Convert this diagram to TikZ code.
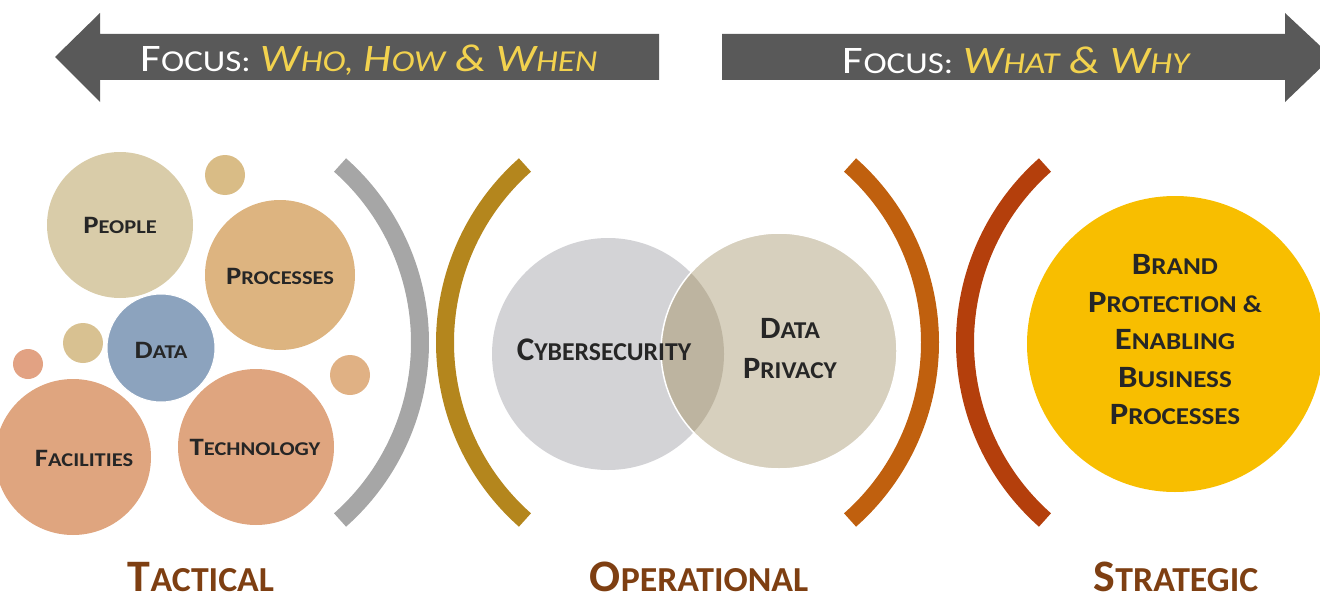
\documentclass[tikz,border=0pt]{standalone}
\usepackage{fontspec}
\setmainfont{Carlito}
\usepackage{graphicx}
\newcommand\fsc[2]{#1\scalebox{0.78}{#2}}
\definecolor{arrowgray}{HTML}{595959}
\definecolor{focusyellow}{HTML}{F2D24E}
\definecolor{cpeople}{HTML}{D9CCA9}
\definecolor{cproc}{HTML}{DDB480}
\definecolor{cdata}{HTML}{8CA3BE}
\definecolor{csalmon}{HTML}{DFA57F}
\definecolor{csmallA}{HTML}{D9BC86}
\definecolor{csmallB}{HTML}{D8C191}
\definecolor{csmallC}{HTML}{E2A283}
\definecolor{csmallD}{HTML}{E0B184}
\definecolor{bgray}{HTML}{A6A6A6}
\definecolor{bgold}{HTML}{B4861D}
\definecolor{borange}{HTML}{C0600E}
\definecolor{bred}{HTML}{B43F0C}
\definecolor{ccyber}{HTML}{D3D3D6}
\definecolor{cpriv}{HTML}{D7D0BE}
\definecolor{coverlap}{HTML}{BDB4A0}
\definecolor{cbrand}{HTML}{F8BE00}
\definecolor{labelbrown}{HTML}{7E3F12}
\begin{document}
\begin{tikzpicture}[x=1pt,y=-1pt,
  bubble/.style={circle,inner sep=0pt,draw=none},
  lbl/.style={font=\bfseries\fontsize{25}{27}\selectfont,text=black!85,align=center,xscale=1.15,inner sep=0pt},
  oplbl/.style={font=\bfseries\fontsize{33}{40}\selectfont,text=black!85,align=center,inner sep=0pt},
  brack/.style={line width=18pt,line cap=butt},
  focus/.style={font=\fontsize{39}{42}\selectfont,text=white,xscale=1.15,inner sep=0pt},
  level/.style={font=\bfseries\fontsize{45}{50}\selectfont,text=labelbrown,anchor=base,inner sep=0pt,xscale=1.02}]
\useasboundingbox (0,0) rectangle (1320,602);
% arrows
\fill[arrowgray] (659,34) -- (100,34) -- (100,13) -- (55,57) -- (100,102) -- (100,80) -- (659,80) -- cycle;
\fill[arrowgray] (722,34) -- (1285,34) -- (1285,13) -- (1332,57) -- (1285,102) -- (1285,80) -- (722,80) -- cycle;
\node[focus] (f1) at (369,60) {\fsc{F}{OCUS:} \textcolor{focusyellow}{\itshape\fsc{W}{HO,} \fsc{H}{OW} \& \fsc{W}{HEN}}};
\node[focus] (f2) at (1016,60) {\fsc{F}{OCUS:} \textcolor{focusyellow}{\itshape\fsc{W}{HAT} \& \fsc{W}{HY}}};
% tactical bubbles
\node[bubble,fill=cpeople,minimum size=146pt] (people) at (120,225) {};
\node[bubble,fill=csmallA,minimum size=40pt] (s1) at (225,175) {};
\node[bubble,fill=cproc,minimum size=150pt] (proc) at (280,275) {};
\node[bubble,fill=csmallB,minimum size=40pt] (s2) at (83,343) {};
\node[bubble,fill=csmallC,minimum size=30pt] (s3) at (28,364) {};
\node[bubble,fill=csmallD,minimum size=40pt] (s4) at (350,375) {};
\node[bubble,fill=cdata,draw=white,line width=1pt,minimum size=108pt] (data) at (161,348) {};
\node[bubble,fill=csalmon,minimum size=156pt] (fac) at (73,457) {};
\node[bubble,fill=csalmon,minimum size=156pt] (tech) at (256,447) {};
\node[lbl] (tpeople) at (120,225) {\fsc{P}{EOPLE}};
\node[lbl] (tproc) at (280,276) {\fsc{P}{ROCESSES}};
\node[lbl] (tdata) at (161,350) {\fsc{D}{ATA}};
\node[lbl] (tfac) at (84,458) {\fsc{F}{ACILITIES}};
\node[lbl] (ttech) at (255,447) {\fsc{T}{ECHNOLOGY}};
% brackets
\draw[brack,bgray] (183,342.5) ++(48.5:237) arc[start angle=48.5,end angle=-48.5,radius=237];
\draw[brack,bgold] (682,342.5) ++(131.5:237) arc[start angle=131.5,end angle=228.5,radius=237];
\draw[brack,borange] (693,342.5) ++(48.5:237) arc[start angle=48.5,end angle=-48.5,radius=237];
\draw[brack,bred] (1202,342.5) ++(131.5:237) arc[start angle=131.5,end angle=228.5,radius=237];
% operational
\node[bubble,fill=ccyber,minimum size=232pt] (cyber) at (608,354) {};
\node[bubble,fill=cpriv,minimum size=236pt] (priv) at (779,351) {};
\begin{scope}
  \clip (608,354) circle (116);
  \fill[coverlap] (779,351) circle (118);
\end{scope}
\draw[white,line width=1.5pt] (779,351) circle (118);
\node[oplbl] (tcyber) at (604,350) {\fsc{C}{YBERSECURITY}};
\node[oplbl,font=\bfseries\fontsize{31}{40}\selectfont,xscale=1.05] (tpriv) at (790,349) {\fsc{D}{ATA}\\\fsc{P}{RIVACY}};
% strategic
\node[bubble,fill=cbrand,minimum size=296pt] (brand) at (1175,344) {};
\node[oplbl,font=\bfseries\fontsize{31}{37.5}\selectfont,xscale=1.12] (tbrand) at (1175,340) {\fsc{B}{RAND}\\\fsc{P}{ROTECTION \&}\\\fsc{E}{NABLING}\\\fsc{B}{USINESS}\\\fsc{P}{ROCESSES}};
% level labels
\node[level] (tac) at (201,591) {\fsc{T}{ACTICAL}};
\node[level] (ope) at (699,591) {\fsc{O}{PERATIONAL}};
\node[level] (str) at (1176,591) {\fsc{S}{TRATEGIC}};
\end{tikzpicture}
\end{document}
